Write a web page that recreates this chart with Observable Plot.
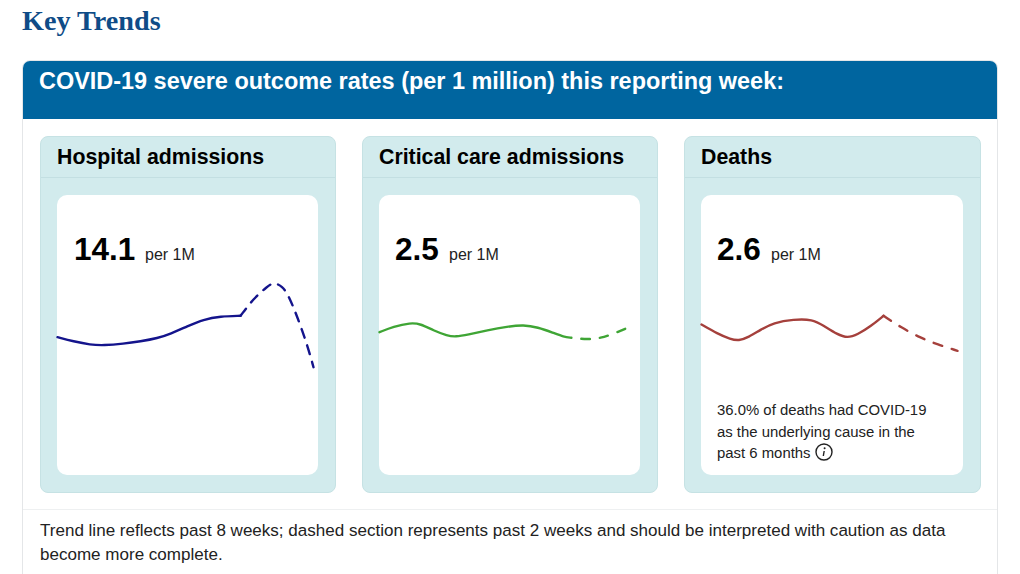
<!DOCTYPE html>
<html>
<head>
<meta charset="utf-8">
<script src="https://cdn.jsdelivr.net/npm/d3@7"></script>
<script src="https://cdn.jsdelivr.net/npm/@observablehq/plot@0.6"></script>
<style>
html,body{margin:0;padding:0;background:#fff;width:1020px;height:574px;overflow:hidden;font-family:"Liberation Sans",Arial,sans-serif;color:#000}
.abs,.abs *{box-sizing:border-box}
.abs{position:absolute}
h1{position:absolute;left:22px;top:4px;margin:0;font:bold 28.2px/34px "Liberation Serif",serif;color:#0f4c87}
#outer{left:22px;top:60px;width:976px;height:530px;border:1px solid #e4e6e8;border-radius:8px;overflow:hidden;background:#fff}
#band{position:absolute;left:0;top:0;width:100%;height:58px;background:#00659f;color:#fff;font:bold 23.45px/26px "Liberation Sans",sans-serif;padding:7px 0 0 16px}
.card{position:absolute;top:136px;height:357px;background:#d2ebed;border:1px solid #c6e2e4;border-radius:8px}
.card .title{position:absolute;left:16px;top:6px;font:bold 21.3px/28px "Liberation Sans",sans-serif;white-space:nowrap}
.card .rule{position:absolute;left:0;right:0;top:40px;height:1px;background:#c3dfe2}
.inner{position:absolute;top:195px;height:280px;background:#fff;border-radius:10px}
.big{position:absolute;top:36px;font:bold 31.5px/36px "Liberation Sans",sans-serif}
.unit{position:absolute;top:49px;font:16px/22px "Liberation Sans",sans-serif;color:#222}
.plot{position:absolute;left:0;top:65px}
.plot svg{display:block;overflow:visible;background:transparent}
.note{position:absolute;left:16px;top:205px;width:222px;font:14.9px/21.5px "Liberation Sans",sans-serif;color:#222}
.info{display:inline-block;width:18px;height:18px;margin-left:4px;vertical-align:-3px}
#foot{left:40px;top:519px;width:930px;font:17.05px/24px "Liberation Sans",sans-serif;color:#222}
#footRule{left:23px;top:509px;width:974px;height:1px;background:#eef0f1}
</style>
</head>
<body>
<h1>Key Trends</h1>
<div id="outer" class="abs"><div id="band">COVID-19 severe outcome rates (per 1 million) this reporting week:</div></div>
<div id="cards"></div>
<div id="footRule" class="abs"></div>
<div id="foot" class="abs">Trend line reflects past 8 weeks; dashed section represents past 2 weeks and should be interpreted with caution as data become more complete.</div>
<script>
const hospitalWeeks = [0,0.5,1.03,1.44,2.06,2.59,3.13,3.53,4.06,4.56,5.09,5.72,6.13,6.56,6.75,7.03,7.22,7.5,7.81,8];
const hospitalRates = [15.6,15.39,15.22,15.19,15.27,15.39,15.55,15.77,16.15,16.49,16.64,16.67,17.54,18.14,18.35,18.15,17.69,16.6,15.19,14.1];
const criticalWeeks = [0,0.45,1,1.32,1.74,2.19,2.45,2.84,3.48,4.13,4.65,5.1,5.61,5.94,6.19,6.71,7.13,7.55,8];
const criticalRates = [2.456,2.513,2.55,2.54,2.473,2.42,2.41,2.43,2.476,2.513,2.53,2.506,2.45,2.41,2.4,2.383,2.396,2.44,2.5];
const deathWeeks = [0,0.5,0.91,1.16,1.47,1.84,2.25,2.88,3.47,3.81,4.25,4.56,4.88,5.28,5.69,6.22,6.84,7.38,8];
const deathRates = [2.863,2.77,2.716,2.7,2.736,2.81,2.88,2.915,2.915,2.853,2.763,2.728,2.763,2.843,2.95,2.836,2.73,2.663,2.6];

const panels = [
  {title:"Hospital admissions", big:"14.1", weeks:hospitalWeeks, rates:hospitalRates, lastSolid:5.72, color:"#14148c",
   left:40, width:296, innerLeft:57, innerWidth:261, unitX:88, yDomain:[12.935,19.435], xWidth:256, dash:"9 8.1", dashOffset:0},
  {title:"Critical care admissions", big:"2.5", weeks:criticalWeeks, rates:criticalRates, lastSolid:6.19, color:"#3fa535",
   left:362, width:296, innerLeft:379, innerWidth:261, unitX:70, yDomain:[1.873,3.173], xWidth:248, dash:"8.5 10", dashOffset:8.5},
  {title:"Deaths", big:"2.6", weeks:deathWeeks, rates:deathRates, lastSolid:5.69, color:"#a5403c",
   left:684, width:297, innerLeft:701, innerWidth:262, unitX:70, yDomain:[2.203,3.503], xWidth:256, dash:"9 10", dashOffset:0,
   note:'36.0% of deaths had COVID-19 as the underlying cause in the past 6 months<svg class="info" viewBox="0 0 18 18"><circle cx="9" cy="9" r="8" fill="none" stroke="#222" stroke-width="1.4"/><circle cx="9.6" cy="5.2" r="1" fill="#222"/><path d="M9.2 8 L8.3 13" stroke="#222" stroke-width="1.4" fill="none"/></svg>'}
];

const root = document.getElementById("cards");
for (const p of panels) {
  const card = document.createElement("div");
  card.className = "abs card";
  card.style.left = p.left + "px";
  card.style.width = p.width + "px";
  card.innerHTML = `<div class="title">${p.title}</div><div class="rule"></div>`;
  root.appendChild(card);

  const inner = document.createElement("div");
  inner.className = "abs inner";
  inner.style.left = p.innerLeft + "px";
  inner.style.width = p.innerWidth + "px";
  inner.innerHTML = `<div class="big" style="left:${p.big.length > 3 ? 17 : 16}px">${p.big}</div>` +
    `<div class="unit" style="left:${p.unitX}px">per 1M</div>` +
    (p.note ? `<div class="note">${p.note}</div>` : "");
  root.appendChild(inner);

  const rows = p.weeks.map((week, i) => ({week, rate: p.rates[i]}));
  const chart = Plot.plot({
    width: p.innerWidth,
    height: 130,
    margin: 0,
    style: {background: "transparent", overflow: "visible"},
    x: {domain: [0, 8], range: [0, p.xWidth], axis: null},
    y: {domain: p.yDomain, axis: null},
    marks: [
      Plot.line(rows.filter(d => d.week <= p.lastSolid), {x: "week", y: "rate", stroke: p.color, strokeWidth: 2.4, curve: "basis"}),
      Plot.line(rows.filter(d => d.week >= p.lastSolid), {x: "week", y: "rate", stroke: p.color, strokeWidth: 2.4, strokeDasharray: p.dash, strokeDashoffset: p.dashOffset, curve: "basis"})
    ]
  });
  const holder = document.createElement("div");
  holder.className = "plot";
  holder.appendChild(chart);
  inner.appendChild(holder);
}
</script>
</body>
</html>
